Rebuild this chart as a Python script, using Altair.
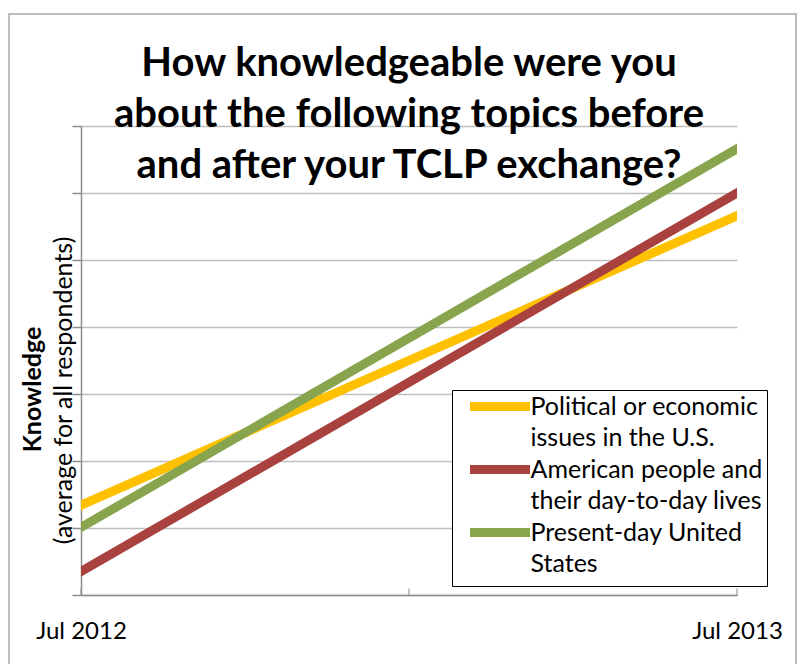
import altair as alt
import pandas as pd

# ---- data ----
periods = ["Jul 2012", "Jul 2013"]
period_months = [0, 12]
tick_months = [0, 6, 12]
series_first_lines = ["Political or economic", "American people and", "Present-day United"]
series_second_lines = ["issues in the U.S.", "their day-to-day lives", "States"]
colors = ["#FFC000", "#A9423F", "#88A54D"]
start_values = [1.34, 0.35, 1.01]
end_values = [5.66, 6.00, 6.66]
title_lines = [
    "How knowledgeable were you",
    "about the following topics before",
    "and after your TCLP exchange?",
]
y_title_main = "Knowledge"
y_title_sub = "(average for all respondents)"

series = [f"{a}\n{b}" for a, b in zip(series_first_lines, series_second_lines)]

rows = []
for s, a, b in zip(series, start_values, end_values):
    rows.append({"series": s, "month": period_months[0], "value": a})
    rows.append({"series": s, "month": period_months[1], "value": b})
df = pd.DataFrame(rows)
ticks_df = pd.DataFrame({"month": tick_months, "value": [0] * len(tick_months)})
frame_df = pd.DataFrame({"k": [0]})

# legend: one row per printed line; continuation rows carry no visible symbol
legend_domain, legend_range = [], []
for s, second, c in zip(series, series_second_lines, colors):
    legend_domain += [s, second]
    legend_range += [c, "transparent"]

FONT = "Lato"
GRAY = "#8c8c8c"
GRID = "#bfbfbf"

label_expr = f"datum.value == {period_months[0]} ? '{periods[0]}' : '{periods[1]}'"

x_scale = alt.Scale(domain=[period_months[0], period_months[1]], nice=False, zero=False)
y_scale = alt.Scale(domain=[0, 7], nice=False)

x_axis = alt.Axis(
    values=period_months, labelExpr=label_expr, tickSize=0, grid=False, title=None,
    domainColor=GRAY, domainWidth=1.5, labelFont=FONT, labelFontSize=24, labelColor="black",
    labelPadding=24, labelFlush=False,
)

frame = alt.Chart(frame_df).mark_rect(fillOpacity=0, stroke="#a6a6a6", strokeWidth=1.5).encode(
    x=alt.value(-72), x2=alt.value(715), y=alt.value(-112), y2=alt.value(560)
)

lines = alt.Chart(df).mark_line(strokeWidth=9, strokeCap="square", clip=True).encode(
    x=alt.X("month:Q", scale=x_scale, axis=x_axis),
    y=alt.Y("value:Q", scale=y_scale, axis=alt.Axis(
        values=list(range(8)), labels=False, tickSize=9, tickColor=GRAY, tickWidth=1.5,
        domainColor=GRAY, domainWidth=1.5, gridColor=GRID, gridWidth=1.5,
        title=y_title_main, titleFont=FONT, titleFontSize=25, titleFontWeight="bold",
        titleColor="black", titleAngle=270, titleAlign="center", titleBaseline="middle",
        titleX=-49, titleY=263,
    )),
    color=alt.Color("series:N", scale=alt.Scale(domain=legend_domain, range=legend_range),
                    legend=alt.Legend(
                        title=None, orient="none", legendX=371, legendY=264,
                        strokeColor="black", fillColor="white", padding=4,
                        labelFont=FONT, labelFontSize=25, labelColor="black",
                        labelExpr="split(datum.label, '\\n')[0]", labelLimit=400,
                        labelOffset=18, symbolOffset=31.5,
                        symbolType="M-6,0H6", symbolStrokeWidth=9, symbolSize=100,
                        rowPadding=-5.5,
                    )),
)

sub_title = alt.Chart(df).mark_line(opacity=0).encode(
    x=alt.X("month:Q", scale=x_scale, axis=x_axis),
    y=alt.Y("value:Q", scale=y_scale, axis=alt.Axis(
        orient="left", labels=False, ticks=False, domain=False, grid=False,
        title=y_title_sub, titleFont=FONT, titleFontSize=25, titleFontWeight="normal",
        titleColor="black", titleAngle=270, titleAlign="center", titleBaseline="middle",
        titleX=-18, titleY=264,
    )),
    detail="series:N",
)

xticks = alt.Chart(ticks_df).mark_tick(orient="vertical", size=7, thickness=1.5, color=GRAY, yOffset=-3).encode(
    x=alt.X("month:Q", scale=x_scale),
    y=alt.Y("value:Q", scale=y_scale, axis=None),
)

chart = alt.layer(frame, lines, sub_title, xticks).resolve_scale(y="independent").properties(
    width=656, height=469,
    autosize=alt.AutoSizeParams(type="none"),
    padding={"left": 81, "top": 126, "right": 63, "bottom": 69},
    background="white",
    title=alt.TitleParams(
        text=title_lines, font=FONT, fontSize=40, fontWeight="bold", color="black",
        anchor="middle", frame="group", offset=-173, lineHeight=51,
    ),
).configure_view(strokeWidth=0)

chart.save("out.html", embed_options={"renderer": "svg", "actions": False})
